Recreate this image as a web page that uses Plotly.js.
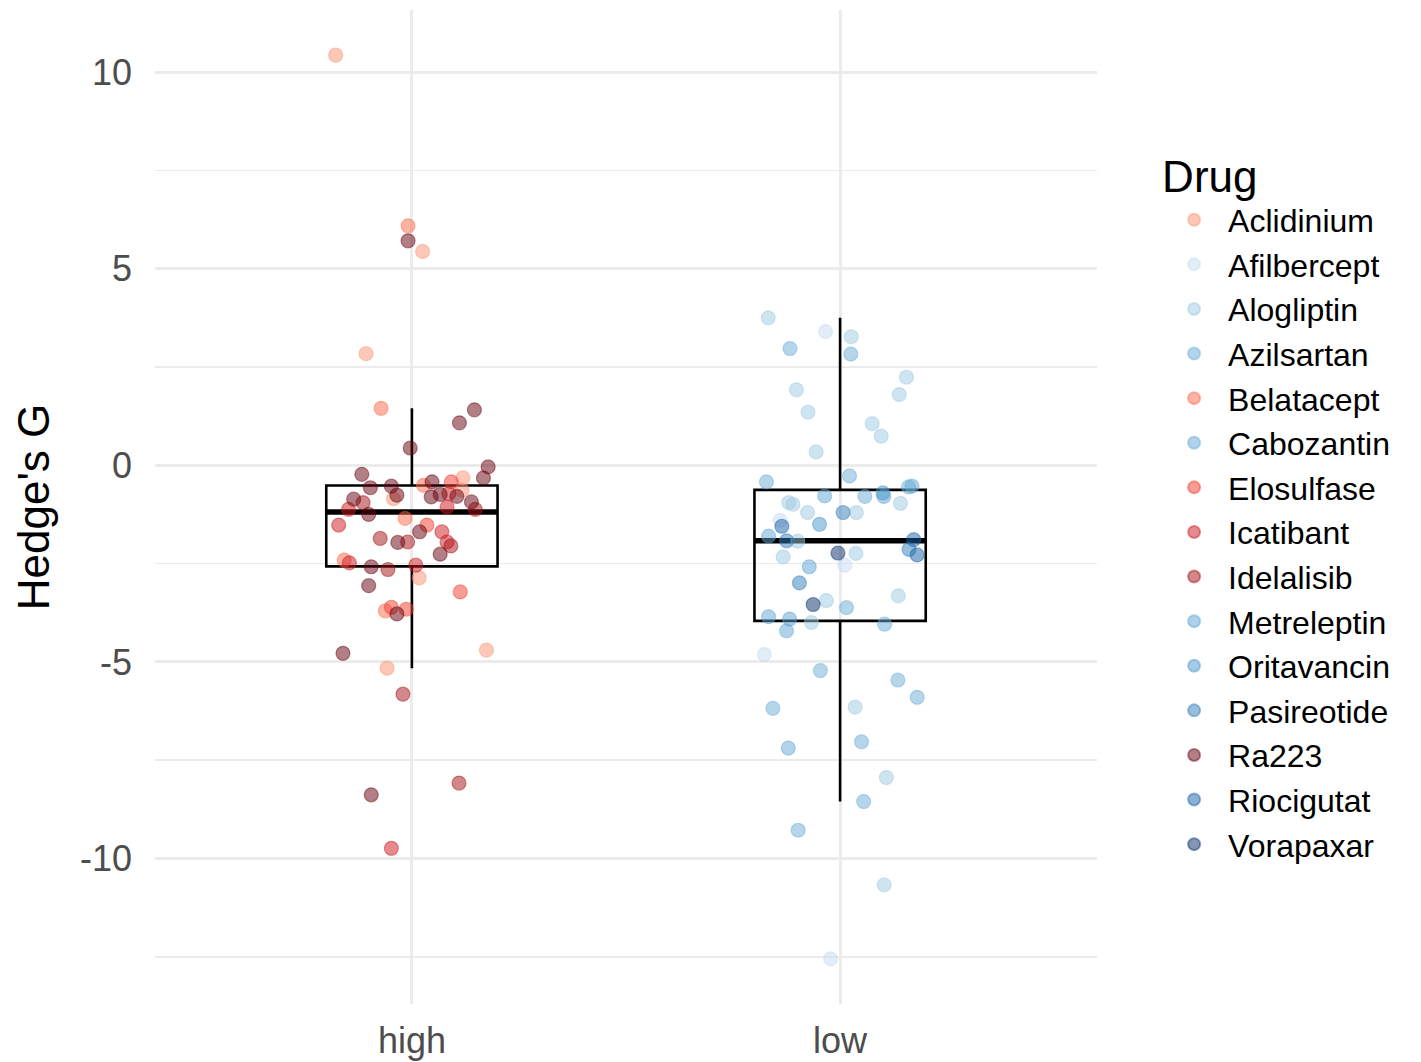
<!DOCTYPE html>
<html>
<head>
<meta charset="utf-8">
<script src="https://cdn.plot.ly/plotly-3.0.1.min.js"></script>
<style>
html,body{margin:0;padding:0;background:#fff;}
#chart{width:1421px;height:1062px;}
</style>
</head>
<body>
<div id="chart"></div>
<script>
// ---- data ----
const groups = ["high", "low"];
const drugs = ["Aclidinium","Afilbercept","Alogliptin","Azilsartan","Belatacept","Cabozantin","Elosulfase","Icatibant","Idelalisib","Metreleptin","Oritavancin","Pasireotide","Ra223","Riocigutat","Vorapaxar"];
const drugColors = ["#FC9272","#C6DBEF","#9ECAE1","#6BAED6","#FB6A4A","#63A8D4","#EF3B2C","#CB181D","#A50F15","#5BA3D2","#4A98CB","#2F7EBC","#67000D","#1A62A8","#08306B"];

const highG = [10.43,6.09,5.71,5.44,2.84,1.45,1.41,1.08,0.44,-0.04,-0.23,-0.32,-0.32,-0.57,-0.53,-0.76,-0.85,-0.51,-0.42,-0.42,-0.63,-0.80,-0.74,-0.72,-0.79,-0.93,-1.12,-1.06,-0.86,-0.95,-1.12,-1.25,-1.52,-1.35,-1.52,-1.86,-1.96,-1.95,-1.69,-1.69,-1.95,-2.05,-2.26,-2.41,-2.48,-2.58,-2.65,-2.54,-2.86,-3.06,-3.22,-3.70,-3.61,-3.78,-3.66,-4.78,-4.70,-5.16,-5.82,-8.38,-8.08,-9.74];
const highJitter = [-0.178,-0.009,-0.009,0.025,-0.107,-0.072,0.146,0.111,-0.004,0.178,-0.117,0.167,0.119,-0.097,-0.048,-0.035,-0.043,0.027,0.047,0.092,0.117,0.045,0.066,0.086,0.105,0.139,0.148,0.082,-0.136,-0.114,-0.148,-0.101,-0.171,-0.016,0.035,-0.074,-0.033,-0.010,0.018,0.070,0.082,0.091,0.066,-0.158,-0.146,-0.095,-0.056,0.009,0.017,-0.101,0.113,-0.062,-0.048,-0.035,-0.013,-0.161,0.174,-0.058,-0.021,-0.095,0.110,-0.048];
const highDrug = ["Aclidinium","Belatacept","Ra223","Aclidinium","Aclidinium","Belatacept","Ra223","Ra223","Ra223","Ra223","Ra223","Ra223","Aclidinium","Ra223","Ra223","Ra223","Aclidinium","Belatacept","Ra223","Elosulfase","Aclidinium","Ra223","Ra223","Icatibant","Ra223","Ra223","Idelalisib","Icatibant","Ra223","Idelalisib","Icatibant","Ra223","Icatibant","Belatacept","Elosulfase","Idelalisib","Ra223","Idelalisib","Ra223","Icatibant","Icatibant","Idelalisib","Ra223","Belatacept","Icatibant","Ra223","Idelalisib","Icatibant","Aclidinium","Ra223","Elosulfase","Belatacept","Elosulfase","Ra223","Elosulfase","Ra223","Aclidinium","Aclidinium","Idelalisib","Ra223","Idelalisib","Icatibant"];

const lowG = [3.75,3.40,3.27,2.97,2.83,2.24,1.92,1.80,1.35,1.06,0.74,0.34,-0.27,-0.42,-0.55,-0.53,-0.95,-0.99,-0.78,-0.79,-0.70,-0.79,-0.97,-1.20,-1.20,-1.20,-1.40,-1.55,-1.50,-1.80,-1.92,-1.93,-1.89,-2.14,-2.28,-2.23,-2.24,-2.33,-2.54,-2.58,-2.99,-3.54,-3.44,-3.62,-3.32,-3.85,-3.91,-4.00,-4.04,-4.21,-4.81,-5.22,-5.46,-5.90,-6.18,-6.15,-7.19,-7.03,-7.94,-8.55,-9.28,-10.67,-12.55];
const lowJitter = [-0.168,-0.034,0.026,-0.117,0.025,0.155,-0.102,0.138,-0.075,0.075,0.096,-0.056,0.022,-0.172,0.160,0.168,-0.120,-0.110,-0.036,0.058,0.100,0.102,0.141,-0.076,0.007,0.038,-0.140,-0.136,-0.048,-0.167,-0.125,-0.099,0.172,0.161,0.180,-0.005,0.037,-0.133,0.011,-0.072,-0.095,-0.063,-0.032,0.015,0.136,-0.167,-0.118,-0.067,0.104,-0.125,-0.177,-0.046,0.135,0.180,-0.157,0.035,-0.121,0.050,0.108,0.055,-0.098,0.103,-0.022];
const lowDrug = ["Alogliptin","Afilbercept","Alogliptin","Azilsartan","Azilsartan","Alogliptin","Alogliptin","Alogliptin","Alogliptin","Alogliptin","Alogliptin","Alogliptin","Azilsartan","Azilsartan","Azilsartan","Cabozantin","Alogliptin","Alogliptin","Cabozantin","Azilsartan","Oritavancin","Metreleptin","Alogliptin","Alogliptin","Pasireotide","Alogliptin","Afilbercept","Riocigutat","Oritavancin","Cabozantin","Pasireotide","Alogliptin","Riocigutat","Pasireotide","Riocigutat","Vorapaxar","Alogliptin","Alogliptin","Afilbercept","Metreleptin","Pasireotide","Vorapaxar","Alogliptin","Azilsartan","Alogliptin","Cabozantin","Metreleptin","Alogliptin","Azilsartan","Cabozantin","Afilbercept","Azilsartan","Azilsartan","Azilsartan","Azilsartan","Alogliptin","Cabozantin","Azilsartan","Alogliptin","Azilsartan","Azilsartan","Alogliptin","Afilbercept"];

// ---- helpers ----
function quantile7(arr, p) {
  const s = arr.slice().sort((a, b) => a - b);
  const h = (s.length - 1) * p;
  const lo = Math.floor(h), hi = Math.ceil(h);
  return s[lo] + (h - lo) * (s[hi] - s[lo]);
}
function boxStats(arr) {
  const q1 = quantile7(arr, 0.25), med = quantile7(arr, 0.5), q3 = quantile7(arr, 0.75);
  const iqr = q3 - q1;
  const lo = arr.filter(v => v >= q1 - 1.5 * iqr);
  const hi = arr.filter(v => v <= q3 + 1.5 * iqr);
  return {q1, med, q3, lf: Math.min(...lo), uf: Math.max(...hi)};
}
function rgba(hex, a) {
  const n = parseInt(hex.slice(1), 16);
  return `rgba(${(n >> 16) & 255},${(n >> 8) & 255},${n & 255},${a})`;
}

const BOX_W = 0.4;
const sH = boxStats(highG), sL = boxStats(lowG);
const allVals = highG.concat(lowG);
const yMin = Math.min(...allVals), yMax = Math.max(...allVals);
const pad = (yMax - yMin) * 0.05;

const traces = [];
traces.push({
  type: 'box', x: [1, 2],
  q1: [sH.q1, sL.q1], median: [sH.med, sL.med], q3: [sH.q3, sL.q3],
  lowerfence: [sH.lf, sL.lf], upperfence: [sH.uf, sL.uf],
  width: BOX_W, whiskerwidth: 0, boxpoints: false,
  fillcolor: 'rgba(0,0,0,0)', line: {color: '#000000', width: 2.6},
  showlegend: false, hoverinfo: 'skip'
});
traces.push({
  type: 'scatter', mode: 'lines',
  x: [1 - BOX_W / 2, 1 + BOX_W / 2, null, 2 - BOX_W / 2, 2 + BOX_W / 2],
  y: [sH.med, sH.med, null, sL.med, sL.med],
  line: {color: '#000000', width: 5.5}, showlegend: false, hoverinfo: 'skip'
});

drugs.forEach((d, k) => {
  const xs = [], ys = [];
  highDrug.forEach((dd, i) => { if (dd === d) { xs.push(1 + highJitter[i]); ys.push(highG[i]); } });
  lowDrug.forEach((dd, i) => { if (dd === d) { xs.push(2 + lowJitter[i]); ys.push(lowG[i]); } });
  traces.push({
    type: 'scatter', mode: 'markers', name: d, x: xs, y: ys,
    marker: {size: 14, color: rgba(drugColors[k], 0.5), line: {color: rgba(drugColors[k], 0.45), width: 1.2}}
  });
});

const tickFont = {family: 'Liberation Sans, Arial, sans-serif', size: 36, color: '#4D4D4D'};
const layout = {
  width: 1421, height: 1062,
  margin: {l: 155, r: 324, t: 10, b: 58},
  paper_bgcolor: '#ffffff', plot_bgcolor: '#ffffff',
  font: {family: 'Liberation Sans, Arial, sans-serif', color: '#000000'},
  xaxis: {
    range: [0.4, 2.6], tickvals: [1, 2], ticktext: groups,
    showgrid: true, gridcolor: '#EBEBEB', gridwidth: 3,
    zeroline: false, showline: false, ticks: '',
    tickfont: tickFont, ticklabelstandoff: 12
  },
  yaxis: {
    range: [yMin - pad, yMax + pad], tickvals: [-10, -5, 0, 5, 10], ticktext: ['-10', '-5', '0', '5', '10'],
    showgrid: true, gridcolor: '#EBEBEB', gridwidth: 3,
    minor: {tickvals: [-12.5, -7.5, -2.5, 2.5, 7.5], showgrid: true, gridcolor: '#EBEBEB', gridwidth: 1.6},
    zeroline: false, showline: false, ticks: '',
    tickfont: tickFont, ticklabelstandoff: 22,
    title: {text: "Hedge's G", font: {size: 44, color: '#000000'}, standoff: 16}
  },
  legend: {
    x: 1.067, xanchor: 'left', y: 0.874, yanchor: 'top',
    font: {size: 32, color: '#000000'},
    title: {text: "Drug", font: {size: 44, color: '#000000'}},
    itemwidth: 58, itemsizing: 'constant', tracegroupgap: 0,
    bgcolor: 'rgba(0,0,0,0)'
  },
  showlegend: true
};

Plotly.newPlot('chart', traces, layout, {displayModeBar: false, staticPlot: true});
</script>
</body>
</html>
